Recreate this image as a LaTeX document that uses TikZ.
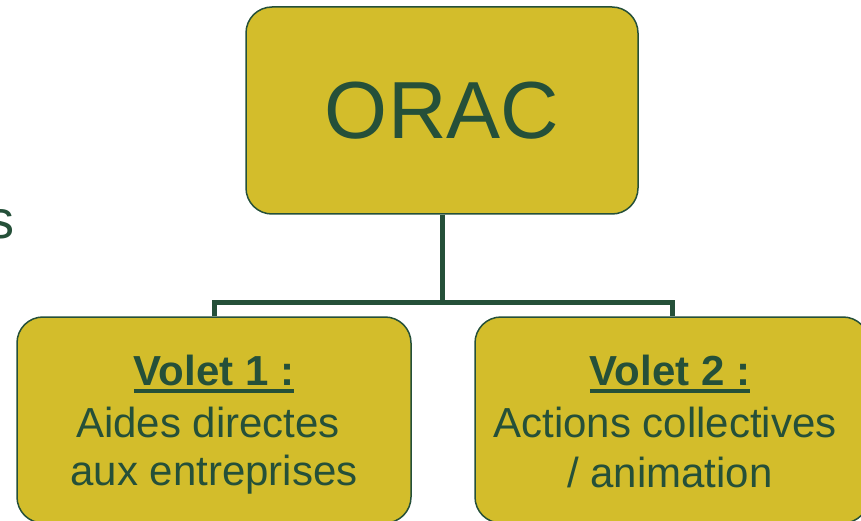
\documentclass[tikz,border=0pt]{standalone}
\usepackage{fontspec}
\setmainfont{Liberation Sans}
\usetikzlibrary{backgrounds}
\definecolor{boxfill}{HTML}{D3BD2B}
\definecolor{dgreen}{HTML}{255039}
\newcommand\thickul[1]{\leavevmode\vtop{\hbox{#1}\kern3.5pt\hrule height 4pt}}
\tikzset{
  box/.style={draw=dgreen, line width=1.5pt, fill=boxfill, rounded corners=26pt, inner sep=0pt},
  conn/.style={draw=dgreen, line width=5pt, line join=miter},
  big/.style={text=dgreen, font=\fontsize{81}{90}\selectfont, inner sep=0pt},
  txt/.style={text=dgreen, font=\fontsize{42}{48}\selectfont, inner sep=0pt, anchor=base},
  bold/.style={txt, font=\fontsize{42}{48}\selectfont\bfseries},
}
\begin{document}
\begin{tikzpicture}[x=1pt, y=-1pt]
\useasboundingbox (0,0) rectangle (861,521);
\clip (0,0) rectangle (861,521);
% boxes
\node[box, minimum width=392pt, minimum height=207pt] (orac) at (442,110.5) {};
\node[box, minimum width=394pt, minimum height=206pt] (v1) at (214,420) {};
\node[box, minimum width=394pt, minimum height=206pt] (v2) at (672,420) {};
\coordinate (j) at (442,302);
% connectors behind boxes
\begin{pgfonlayer}{background}
\draw[conn] (orac.south) -- (orac.south |- j);
\draw[conn] (v1.north) -- (v1.north |- j) -- (v2.north |- j) -- (v2.north);
\end{pgfonlayer}
% texts
\node[big] (oractxt) at (442,111) {ORAC};
\node[bold] (v1t1) at (214,385) {\thickul{Volet 1 :}};
\node[txt] (v1t2) at (208,437) {Aides directes};
\node[txt] (v1t3) at (214,485) {aux entreprises};
\node[bold] (v2t1) at (670,385) {\thickul{Volet 2 :}};
\node[txt] (v2t2) at (665,437) {Actions collectives};
\node[txt] (v2t3) at (670,487) {/ animation};
\node[text=dgreen, font=\fontsize{54}{60}\selectfont, inner sep=0pt, anchor=base west] (s) at (-13,238) {s};
\end{tikzpicture}
\end{document}
